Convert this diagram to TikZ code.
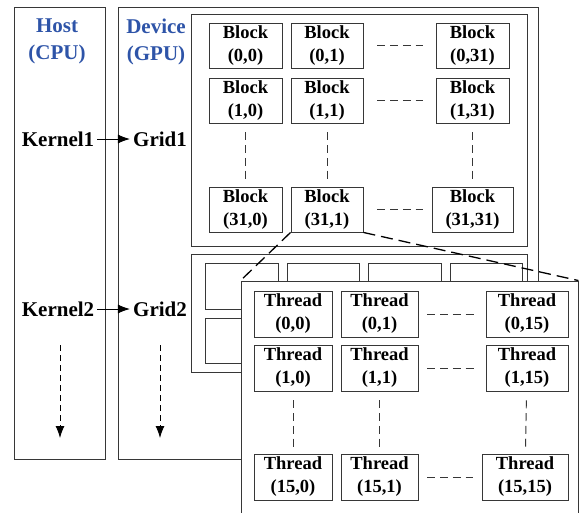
\documentclass[tikz,border=0pt]{standalone}
\usepackage{fontspec}
\setmainfont{Liberation Serif}
\usetikzlibrary{arrows.meta}
\definecolor{hostblue}{RGB}{46,84,168}
\definecolor{edge}{RGB}{55,55,55}
\tikzset{
  frame/.style={draw=edge, line width=0.9pt, inner sep=0pt},
  unit/.style={frame, align=center, font=\bfseries\fontsize{18.5}{23}\selectfont},
  lbl/.style={font=\bfseries\fontsize{21}{27}\selectfont, align=center, inner sep=3pt},
  gap/.style={draw=edge, line width=0.9pt, dash pattern=on 8pt off 4.7pt},
  zoomline/.style={draw=black, line width=1.3pt, dash pattern=on 12pt off 6pt},
  call/.style={draw=black, line width=0.9pt, -{Latex[length=12pt,width=9pt]}},
}

\begin{document}
\begin{tikzpicture}[x=1pt,y=-1pt]
    \clip (0,0) rectangle (579,512);
    \node[frame, minimum width=91, minimum height=452] (host) at (59.5,233) {};
    \node[frame, minimum width=420, minimum height=452] (device) at (328,233) {};
    \node[frame, minimum width=336, minimum height=232] (grid1) at (359,130) {};
    \node[frame, minimum width=336, minimum height=118] (grid2) at (359,313) {};

    \node[lbl, text=hostblue] (hostlbl) at (57,41.5) {Host\\(CPU)};
    \node[lbl, text=hostblue] (devlbl) at (156,41.5) {Device\\(GPU)};
    \node[lbl] (k1) at (58,139) {Kernel1};
    \node[lbl] (g1) at (160,139) {Grid1};
    \node[lbl] (k2) at (58,309) {Kernel2};
    \node[lbl] (g2) at (160,309) {Grid2};
    \draw[call] (k1) -- (g1);
    \draw[call] (k2) -- (g2);
    \coordinate (h1) at (60,345);
    \coordinate (h2) at (60,438);
    \coordinate (d1) at (160,345);
    \coordinate (d2) at (160,438);
    \draw[call, dash pattern=on 6pt off 4pt] (h1) -- (h2);
    \draw[call, dash pattern=on 6pt off 4pt] (d1) -- (d2);

    \node[unit, minimum width=73, minimum height=45] (b00) at (245.5,45.5) {Block\\(0,0)};
    \node[unit, minimum width=72, minimum height=45] (b01) at (327,45.5) {Block\\(0,1)};
    \node[unit, minimum width=73, minimum height=45] (b031) at (472.5,45.5) {Block\\(0,31)};
    \node[unit, minimum width=73, minimum height=45] (b10) at (245.5,100.5) {Block\\(1,0)};
    \node[unit, minimum width=72, minimum height=45] (b11) at (327,100.5) {Block\\(1,1)};
    \node[unit, minimum width=73, minimum height=45] (b131) at (472.5,100.5) {Block\\(1,31)};
    \node[unit, minimum width=73, minimum height=45] (b310) at (245.5,209.5) {Block\\(31,0)};
    \node[unit, minimum width=72, minimum height=45] (b311) at (327,209.5) {Block\\(31,1)};
    \node[unit, minimum width=81, minimum height=45] (b3131) at (472.5,209.5) {Block\\(31,31)};
    \draw[gap, shorten <=14pt, shorten >=13pt] (b01) -- (b031);
    \draw[gap, shorten <=14pt, shorten >=13pt] (b11) -- (b131);
    \draw[gap, shorten <=14pt, shorten >=9pt] (b311) -- (b3131);
    \draw[gap, shorten <=9pt, shorten >=7pt] (b10) -- (b310);
    \draw[gap, shorten <=9pt, shorten >=7pt] (b11) -- (b311);
    \draw[gap, shorten <=9pt, shorten >=7pt] (b131) -- (b3131);

    \node[frame, minimum width=73, minimum height=46] (s1) at (241.5,286) {};
    \node[frame, minimum width=72, minimum height=46] (s2) at (323,286) {};
    \node[frame, minimum width=73, minimum height=46] (s3) at (404.5,286) {};
    \node[frame, minimum width=72, minimum height=46] (s4) at (486,286) {};
    \node[frame, minimum width=73, minimum height=45] (s5) at (241.5,340.5) {};
    \node[frame, minimum width=72, minimum height=45] (s6) at (323,340.5) {};

    \node[frame, fill=white, minimum width=337, minimum height=259] (tpanel) at (409.5,410.5) {};
    \draw[zoomline] (b311.south west) -- (tpanel.north west);
    \draw[zoomline] (b311.south east) -- (tpanel.north east);

    \node[unit, minimum width=78, minimum height=46] (t00) at (293,314) {Thread\\(0,0)};
    \node[unit, minimum width=77, minimum height=46] (t01) at (379.5,314) {Thread\\(0,1)};
    \node[unit, minimum width=82, minimum height=46] (t015) at (527,314) {Thread\\(0,15)};
    \node[unit, minimum width=78, minimum height=46] (t10) at (293,368) {Thread\\(1,0)};
    \node[unit, minimum width=77, minimum height=46] (t11) at (379.5,368) {Thread\\(1,1)};
    \node[unit, minimum width=82, minimum height=46] (t115) at (527,368) {Thread\\(1,15)};
    \node[unit, minimum width=78, minimum height=46] (t150) at (293,477) {Thread\\(15,0)};
    \node[unit, minimum width=77, minimum height=46] (t151) at (379.5,477) {Thread\\(15,1)};
    \node[unit, minimum width=86, minimum height=46] (t1515) at (525,477) {Thread\\(15,15)};
    \draw[gap, shorten <=9pt, shorten >=12pt] (t01) -- (t015);
    \draw[gap, shorten <=9pt, shorten >=12pt] (t11) -- (t115);
    \draw[gap, shorten <=9pt, shorten >=9pt] (t151) -- (t1515);
    \draw[gap, shorten <=9pt, shorten >=6pt] (t10) -- (t150);
    \draw[gap, shorten <=9pt, shorten >=6pt] (t11) -- (t151);
    \draw[gap, shorten <=9pt, shorten >=6pt] (t115) -- (t1515);
\end{tikzpicture}
\end{document}
